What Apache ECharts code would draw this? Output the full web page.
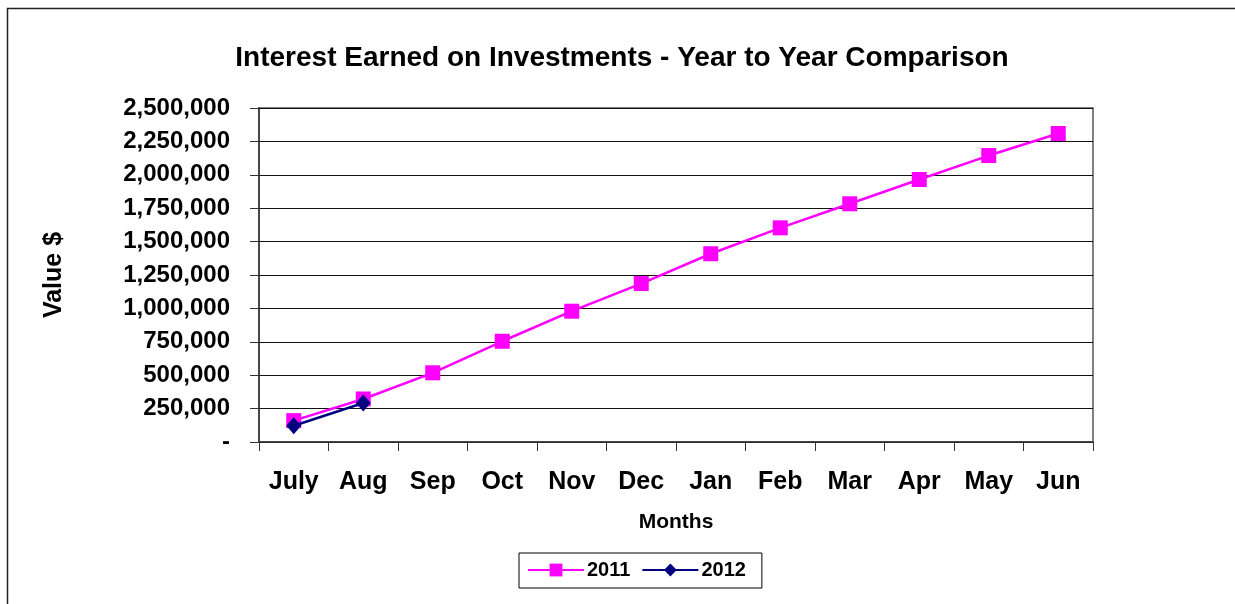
<!DOCTYPE html>
<html>
<head>
<meta charset="utf-8">
<script src="https://cdn.jsdelivr.net/npm/echarts@6/dist/echarts.min.js"></script>
<style>
html,body{margin:0;padding:0;background:#fff;}
#main{width:1235px;height:604px;}
</style>
</head>
<body>
<div id="main"></div>
<script>
var months = ['July','Aug','Sep','Oct','Nov','Dec','Jan','Feb','Mar','Apr','May','Jun'];
var values2011 = [160000, 322000, 518000, 754000, 979000, 1186000, 1409000, 1603000, 1783000, 1965000, 2144000, 2309000];
var values2012 = [122000, 292000, null, null, null, null, null, null, null, null, null, null];
var yMin = 0, yMax = 2500000, yStep = 250000;

var F = 'Liberation Sans, Arial, sans-serif';
var chart = echarts.init(document.getElementById('main'), null, {renderer:'canvas'});
chart.setOption({
  animation: false,
  backgroundColor: '#ffffff',
  title: {
    text: 'Interest Earned on Investments - Year to Year Comparison',
    left: 617, top: 39, textAlign: 'center',
    textStyle: {fontFamily: F, fontWeight: 'bold', fontSize: 28, color: '#000'}
  },
  graphic: [{
    type: 'rect', silent: true, z: -1,
    shape: {x: 7.5, y: 8.5, width: 1240, height: 610},
    style: {fill: 'none', stroke: '#222', lineWidth: 1.5}
  }],
  grid: {left: 259, right: 142, top: 108, bottom: 162, show: true, borderColor: '#808080', borderWidth: 2, backgroundColor: 'transparent'},
  legend: {
    data: ['2011', '2012'],
    left: 519, top: 553,
    padding: [7, 16, 8, 8],
    itemGap: 11, itemWidth: 56, itemHeight: 16,
    borderColor: '#000', borderWidth: 1,
    textStyle: {fontFamily: F, fontWeight: 'bold', fontSize: 20, color: '#000', padding: [0,0,0,-2]}
  },
  xAxis: {
    type: 'category', data: months, boundaryGap: true,
    name: 'Months', nameLocation: 'middle', nameGap: 70,
    nameTextStyle: {fontFamily: F, fontWeight: 'bold', fontSize: 21, color: '#000'},
    axisLine: {lineStyle: {color: '#333', width: 1.5}},
    axisTick: {show: true, interval: 0, length: 9, inside: false, lineStyle: {color: '#333'}},
    axisLabel: {interval: 0, margin: 28, fontFamily: F, fontWeight: 'bold', fontSize: 25, color: '#000'},
    splitLine: {show: false}
  },
  yAxis: {
    type: 'value', min: yMin, max: yMax, interval: yStep,
    name: 'Value $', nameLocation: 'middle', nameGap: 192, nameRotate: 90,
    nameTextStyle: {fontFamily: F, fontWeight: 'bold', fontSize: 25, color: '#000'},
    axisLine: {show: true, lineStyle: {color: '#333', width: 1.5}},
    axisTick: {show: true, length: 9, lineStyle: {color: '#333'}},
    axisLabel: {margin: 29, fontFamily: F, fontWeight: 'bold', fontSize: 24, color: '#000',
      formatter: function (v) { return v === 0 ? '-' : v.toString().replace(/\B(?=(\d{3})+(?!\d))/g, ','); }},
    splitLine: {show: true, lineStyle: {color: '#111', width: 1}}
  },
  series: [
    {name: '2011', type: 'line', data: values2011, symbol: 'rect', symbolSize: 15,
     lineStyle: {color: '#ff00ff', width: 2.5}, itemStyle: {color: '#ff00ff'}, z: 2},
    {name: '2012', type: 'line', data: values2012, symbol: 'diamond', symbolSize: [15, 17],
     lineStyle: {color: '#000080', width: 2.5}, itemStyle: {color: '#000080'}, z: 3}
  ]
});
</script>
</body>
</html>
